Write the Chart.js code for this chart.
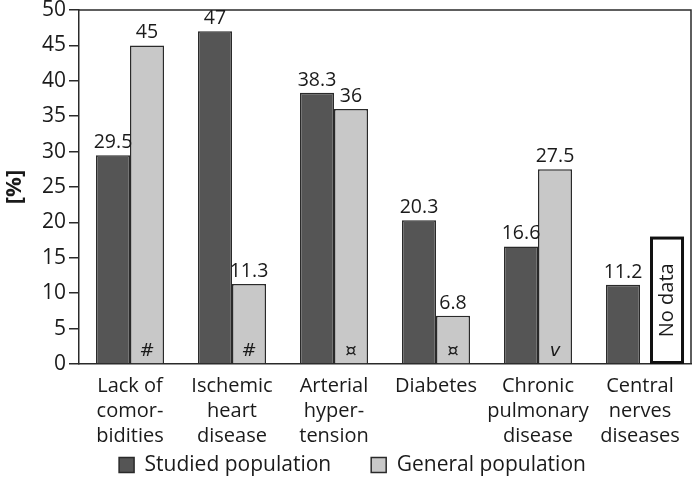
<!DOCTYPE html>
<html><head><meta charset="utf-8">
<script src="https://cdn.jsdelivr.net/npm/chart.js@4/dist/chart.umd.min.js"></script>
<style>html,body{margin:0;padding:0;background:#fff}#wrap{width:695px;height:485px}</style>
</head><body><div id="wrap"><canvas id="c" width="695" height="485"></canvas></div>
<script>
const categories = [["Lack of","comor-","bidities"],["Ischemic","heart","disease"],["Arterial","hyper-","tension"],["Diabetes"],["Chronic","pulmonary","disease"],["Central","nerves","diseases"]];
const seriesNames = ["Studied population","General population"];
const studiedValues = [29.5,47,38.3,20.3,16.6,11.2];
const generalValues = [45,11.3,36,6.8,27.5,null];
const significanceMarks = ["#","#","¤","¤","v",""];
const yTickValues = [0,5,10,15,20,25,30,35,40,45,50];
const noDataLabel = "No data";
const noDataBoxValue = 18;
const noDataCategory = 5;

const FONT = "'Open Sans', 'Noto Sans', sans-serif";
const INK = '#1a1a1a';
const EDGE = '#2a2a2a';
const LEGEND_GAP = 40;

const overlay = {
  id: 'overlay',
  afterLayout(chart) {
    const lg = chart.legend;
    if (lg) {
      lg.top = 467 - 12.6 - LEGEND_GAP;
      lg.bottom = chart.height;
      lg.height = lg.bottom - lg.top;
      lg.left += 7; lg.right += 7;
    }
  },
  afterDatasetsDraw(chart) {
    const ctx = chart.ctx, a = chart.chartArea;
    const xs = chart.scales.x, ys = chart.scales.y;
    ctx.save();
    ctx.strokeStyle = EDGE; ctx.lineWidth = 1.5;
    ctx.beginPath();
    ctx.moveTo(a.left, a.top); ctx.lineTo(a.right, a.top); ctx.lineTo(a.right, a.bottom);
    ctx.stroke();
    ctx.fillStyle = INK;
    ctx.font = "19.5px " + FONT;
    ctx.textAlign = 'center'; ctx.textBaseline = 'alphabetic';
    chart.data.datasets.forEach((ds, di) => {
      const meta = chart.getDatasetMeta(di);
      meta.data.forEach((el, i) => {
        const v = ds.data[i];
        if (v === null || v === undefined) return;
        ctx.fillText(String(v), el.x, el.y - 7);
      });
    });
    ctx.font = "oblique 18px 'DejaVu Sans', sans-serif";
    ctx.textBaseline = 'middle';
    const gm = chart.getDatasetMeta(1);
    significanceMarks.forEach((m, i) => {
      if (!m) return;
      const el = gm.data[i];
      ctx.fillText(m, el.x, ys.getPixelForValue(0) - 13);
    });
    const sm = chart.getDatasetMeta(0);
    const w = sm.data[noDataCategory].width;
    const cx = xs.getPixelForValue(noDataCategory);
    const x0 = cx + 10, yTop = ys.getPixelForValue(noDataBoxValue), yBot = ys.getPixelForValue(0);
    ctx.fillStyle = '#fff';
    ctx.fillRect(x0, yTop, w, yBot - yTop);
    ctx.strokeStyle = '#111'; ctx.lineWidth = 3;
    ctx.strokeRect(x0 + 1.5, yTop + 1.5, w - 3, yBot - yTop - 3);
    ctx.translate(x0 + w / 2, (yTop + yBot) / 2);
    ctx.rotate(-Math.PI / 2);
    ctx.fillStyle = INK;
    ctx.font = "20px " + FONT;
    ctx.textAlign = 'center'; ctx.textBaseline = 'middle';
    ctx.fillText(noDataLabel, 0, 0);
    ctx.restore();
  }
};

new Chart(document.getElementById('c'), {
  type: 'bar',
  data: {
    labels: categories,
    datasets: [
      { label: seriesNames[0], data: studiedValues, backgroundColor: '#555555', borderColor: EDGE, borderWidth: 1.5 },
      { label: seriesNames[1], data: generalValues, backgroundColor: '#c8c8c8', borderColor: EDGE, borderWidth: 1.5 }
    ]
  },
  plugins: [overlay],
  options: {
    responsive: false,
    devicePixelRatio: 1,
    animation: false,
    layout: { padding: { left: 0, right: 4, top: 10, bottom: 0 } },
    datasets: { bar: { categoryPercentage: 0.667, barPercentage: 1.0 } },
    plugins: {
      tooltip: { enabled: false },
      legend: {
        position: 'bottom',
        maxHeight: 36,
        labels: { color: INK, font: { family: FONT, size: 21 }, boxWidth: 15, boxHeight: 15, padding: LEGEND_GAP }
      }
    },
    scales: {
      x: {
        grid: { display: false },
        border: { display: true, color: EDGE, width: 1.5 },
        ticks: { color: INK, font: { family: FONT, size: 20, lineHeight: 1.25 }, padding: 2, maxRotation: 0, autoSkip: false },
        afterFit(s) { s.height = 85; s.paddingLeft = 0; s.paddingRight = 0; }
      },
      y: {
        min: 0, max: 50,
        afterBuildTicks(s) { s.ticks = yTickValues.map(v => ({ value: v })); },
        ticks: { color: INK, font: { family: FONT, size: 21 }, padding: 3 },
        grid: { drawOnChartArea: false, drawTicks: true, tickLength: 10, color: EDGE, lineWidth: 1.5 },
        border: { display: true, color: EDGE, width: 1.5 },
        title: { display: true, text: '[%]', color: INK, font: { family: FONT, size: 22, weight: 'bold' }, padding: { top: 2, bottom: 3 } },
        afterFit(s) { s.width = 79; s.paddingTop = 0; s.paddingBottom = 0; }
      }
    }
  }
});
</script></body></html>
